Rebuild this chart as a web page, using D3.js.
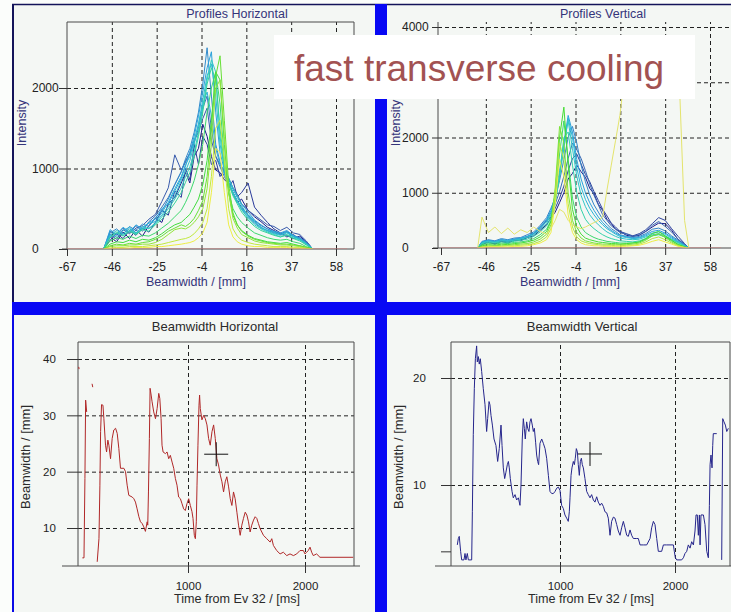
<!DOCTYPE html>
<html>
<head>
<meta charset="utf-8">
<style>
body { margin: 0; background: #f4f7f4; }
svg { display: block; }
svg text { font-family: "Liberation Sans", Arial, sans-serif; }
.grid line { stroke: #222; stroke-dasharray: 4,3; }
.frame line { stroke: #4a4a4a; stroke-width: 1; }
.axis line { stroke: #333; }
.axis text { fill: #222; }
path.trace { fill: none; stroke-width: 1; stroke-linejoin: round; }
</style>
</head>
<body>
<svg></svg>
<script src="https://cdn.jsdelivr.net/npm/d3@7"></script>
<script>
// ---- data ----------------------------------------------------------------
var profileTicks = [-67, -46.2, -25.4, -4.6, 16.2, 37, 57.8];
var profileTickLabels = ["-67", "-46", "-25", "-4", "16", "37", "58"];
var baselineX = [-67, 63];
var intensityTicksH = [0, 1000, 2000];
var intensityTicksV = [0, 1000, 2000, 3000, 4000];
var intensityLabelsV = ["0", "1000", "2000", "", "4000"]; // 3000 sits under the caption
var timeTicks = [1000, 2000];
var widthTicksH = [10, 20, 30, 40];
var widthTicksV = [3.8, 10, 20];
var widthTickLabelsV = ["", "10", "20"];

// horizontal profiles, sampled on hGrid (mm), intensities in counts
var hGrid = [-50,-47,-44,-41,-38,-35,-32,-29,-26,-23,-20,-17,-14,
  -12,-10,-8,-6,-4,-2,0,2,4,6,8,10,12,14,
  17,20,23,26,29,32,35,38,41,44,47];
var hProfiles = [
  [0,150,90,210,130,240,160,290,380,330,560,640,820, 950,820,1150,1250,1550,1400,1150,980,950,860,820,700,580,620, 480,400,340,270,230,180,170,130,160,90,0],
  [0,110,190,130,230,170,260,210,330,480,420,720,640, 1000,860,1300,1050,1400,1300,1050,1100,900,980,760,850,650,700, 820,520,420,330,250,200,150,180,120,70,0],
  [0,180,120,240,190,260,290,370,430,590,760,1170,980, 1080,1200,1350,1450,1620,1750,1350,1150,1050,960,880,760,680,560, 480,420,360,300,280,230,270,200,180,100,0],
  [0,220,170,260,200,290,220,340,410,520,640,800,960, 1100,1180,1320,1500,1750,1900,1500,1150,1020,900,800,700,600,520, 420,350,290,250,210,190,220,160,140,90,0],
  [0,200,250,180,280,230,310,280,390,470,620,800,960, 1120,1250,1450,1700,2050,2500,1900,1300,1080,940,820,700,600,490, 400,320,260,230,200,180,210,160,140,80,0],
  [0,240,180,270,210,300,250,330,370,500,560,720,880, 1030,1200,1400,1650,1950,2250,2450,1700,1200,980,860,740,640,560, 460,360,300,250,220,200,230,170,130,70,0],
  [0,180,150,230,270,200,270,320,340,450,580,750,900, 1050,1150,1350,1550,1800,1950,1650,1250,1050,940,800,680,580,500, 430,340,270,230,210,180,210,160,120,70,0],
  [0,170,230,190,250,200,280,250,330,420,530,660,850, 970,1100,1300,1550,1850,2150,2300,1900,1300,1020,880,760,660,540, 410,330,270,220,190,170,200,150,120,60,0],
  [0,150,200,170,230,190,250,260,310,400,500,620,760, 900,1020,1200,1450,1750,2100,2350,2200,1400,980,820,700,600,490, 380,300,250,210,180,150,180,140,110,60,0],
  [0,140,210,160,220,180,240,220,300,370,460,570,700, 830,950,1150,1400,1700,2050,2250,2100,1500,1040,820,660,560,460, 360,280,230,200,170,150,170,130,100,50,0],
  [0,100,140,120,160,130,170,160,200,260,320,400,480, 580,700,850,1050,1300,1700,2000,2200,1800,1100,700,500,400,330, 260,200,170,140,120,110,120,90,70,30,0],
  [0,60,90,80,110,90,120,110,140,190,250,300,330, 380,430,520,620,800,1100,1600,2200,2100,1300,700,420,300,230, 170,130,110,90,80,70,80,60,40,20,0],
  [0,40,60,50,70,60,80,90,120,160,220,260,300, 280,320,380,480,600,900,1500,2150,2400,1600,800,450,300,220, 160,120,100,80,70,60,60,50,40,20,0],
  [0,30,40,40,50,50,60,60,80,120,180,240,260, 250,280,330,400,500,750,1300,2000,2100,1400,700,380,260,180, 140,100,80,70,60,50,50,40,30,10,0],
  [0,10,20,20,30,30,30,40,50,60,80,100,120, 130,150,190,250,330,500,900,1500,1600,1100,500,250,160,110, 80,60,50,40,30,30,30,20,20,10,0],
  [0,10,10,10,10,20,20,20,30,30,40,50,60, 70,80,100,140,200,330,700,1250,1200,700,300,150,90,60, 40,30,30,20,20,20,20,10,10,0,0]
];

// vertical profiles, sampled on vGrid (mm)
var vGrid = [-50,-48,-45,-42,-39,-36,-33,-30,-27,-24,
  -21,-18,-16,-14,-12,-10,-8,-6,-4,-2,
  0,2,4,6,8,10,12,14,16,19,
  22,25,28,31,34,37,40,43,46,48];
var vProfiles = [
  [0,60,110,70,120,90,140,150,190,220, 320,420,540,650,820,1000,1250,1350,1500,1380, 1280,1080,980,790,680,520,440,340,300,230, 210,230,300,380,450,440,320,150,60,0],
  [0,90,100,80,130,110,150,130,190,260, 350,490,560,720,900,1120,1400,1620,1700,1520, 1330,1200,1020,860,700,580,450,380,300,260, 220,260,330,440,550,500,350,210,80,0],
  [0,100,140,110,150,120,160,170,210,260, 390,500,640,800,1020,1300,1620,1900,1780,1620, 1400,1160,950,780,600,500,400,340,280,250, 210,240,300,410,480,390,290,160,70,0],
  [0,120,150,130,170,150,180,190,240,290, 410,550,720,900,1220,1600,2000,2200,1900,1500, 1200,960,780,650,520,430,350,300,240,210, 190,210,260,340,360,310,220,140,60,0],
  [0,110,140,120,150,140,160,180,210,270, 380,520,680,950,1400,1900,2400,2100,1600,1250, 1000,820,680,560,460,380,320,270,230,200, 180,190,240,300,320,270,200,120,50,0],
  [0,100,130,110,140,130,150,170,200,260, 360,480,640,900,1300,1800,2350,2000,1450,1100, 880,720,600,500,420,350,300,250,210,190, 170,180,220,270,290,250,180,110,40,0],
  [0,90,120,100,130,120,140,160,190,240, 330,450,600,850,1300,1900,2300,1800,1300,950, 750,600,500,420,350,290,250,210,180,160, 150,160,200,240,260,220,160,100,40,0],
  [0,80,100,90,110,100,120,140,160,210, 290,400,550,800,1300,2000,2100,1500,1000,700, 520,420,350,290,240,200,170,150,130,120, 110,130,170,220,240,200,150,90,30,0],
  [0,60,80,70,90,80,100,110,130,170, 240,340,500,900,1700,2300,1600,900,550,380, 280,230,190,160,140,120,110,100,90,90, 90,110,160,220,250,200,130,70,20,0],
  [0,40,60,50,70,60,80,90,110,140, 200,300,480,1000,2000,2550,1500,700,380,250, 180,150,130,110,100,90,80,80,70,80, 90,110,170,260,300,220,140,60,20,0],
  [0,30,40,40,50,50,60,70,80,110, 160,250,420,1100,2200,1900,1000,500,280,180, 130,110,90,80,70,70,60,60,60,60, 70,90,140,220,260,190,110,50,10,0],
  [0,20,30,30,30,40,40,50,60,80, 120,200,350,1000,1900,1600,800,380,200,130, 100,80,70,60,50,50,50,40,40,50, 50,70,110,170,200,150,90,40,10,0],
  [0,10,20,20,20,20,30,30,40,60, 90,150,280,800,1600,1300,600,280,150,90, 60,50,40,40,30,30,30,30,30,30, 40,50,80,120,150,110,70,30,10,0]
];
var vOutlier = [0,560,280,380,260,360,250,330,280,380, 300,250,350,500,700,650,500,420,380,350,
  380,420,460,500,560,1050,1500,1950,2400,3400, 3650,3700,3650,3700,3650,3700,3650,3600,500,0];

// beamwidth vs time: [time ms, width mm], null = no reading
var bwHorizontal = [
  [66,38.6],[69,38.2],[75,null],
  [97,4.7],[111,4.7],[119,18.8],[125,32.7],[134,30.6],[150,null],
  [180,35.6],[186,35.0],[200,null],
  [224,4.0],[239,8.1],[247,17.6],[253,27.1],[261,31.9],[273,31.8],[281,29.4],[295,24.7],[304,23.5],
  [315,25.6],[324,24.7],[338,22.3],[352,25.9],[366,27.4],[381,27.7],[395,26.8],[409,24.1],[423,20.6],
  [452,20.6],[466,20.0],[480,17.6],[494,15.8],[523,15.5],[537,15.2],[551,14.6],[565,13.4],[580,12.0],
  [594,11.1],[608,10.8],[622,10.2],[636,9.4],[651,11.1],[656,10.5],[662,16.4],[670,25.9],[676,34.8],
  [685,33.6],[693,32.4],[707,30.6],[722,29.4],[736,31.2],[750,33.9],[759,33.0],[770,29.4],[778,24.7],
  [787,23.5],[807,23.2],[821,23.5],[835,22.3],[849,22.9],[864,21.7],[878,20.6],[892,18.8],[906,17.6],
  [920,15.5],[935,15.2],[949,14.3],[963,13.4],[977,13.1],[991,14.3],[1006,15.2],[1020,14.0],[1034,12.9],
  [1043,11.7],[1054,8.7],[1063,8.1],[1071,11.1],[1077,17.6],[1085,24.7],[1094,31.8],[1099,33.6],[1105,31.2],
  [1119,29.2],[1134,30.0],[1148,29.4],[1162,28.3],[1176,25.9],[1190,24.7],[1205,27.1],[1219,28.3],[1233,25.9],
  [1247,22.3],[1261,21.2],[1276,19.4],[1290,18.2],[1304,16.4],[1318,18.2],[1332,19.1],[1347,17.3],[1361,15.2],
  [1375,14.0],[1389,16.4],[1403,15.2],[1418,12.8],[1432,10.5],[1446,8.7],[1460,10.5],[1474,11.7],[1489,12.8],
  [1503,12.3],[1517,11.1],[1531,9.3],[1545,10.5],[1560,11.4],[1574,12.0],[1588,11.7],[1602,10.8],[1616,9.9],
  [1645,8.7],[1673,8.1],[1702,7.5],[1716,8.1],[1730,6.9],[1758,6.0],[1787,5.4],[1815,5.7],[1844,5.1],
  [1872,5.4],[1901,5.1],[1929,5.4],[1957,6.0],[1986,6.0],[2000,5.4],[2014,5.7],[2028,6.0],[2043,6.6],
  [2057,5.7],[2071,5.1],[2099,5.4],[2128,4.8],[2412,4.8]
];
var bwVertical = [
  [107,4.4],[116,5.0],[124,5.2],[136,3.8],[145,3.0],[165,3.0],[174,3.6],[182,3.0],[194,3.6],[203,3.0],
  [232,3.0],[238,7.5],[246,14.7],[255,19.0],[264,21.8],[275,23.0],[281,21.5],[290,22.0],[298,21.3],[307,21.8],
  [319,20.6],[333,19.0],[348,17.5],[362,15.0],[371,16.2],[383,17.8],[391,17.5],[400,16.5],[412,15.6],[426,14.3],
  [443,13.7],[458,12.2],[472,13.4],[487,15.6],[496,13.7],[507,11.6],[519,10.6],[530,11.2],[542,11.9],[551,12.2],
  [559,11.6],[568,10.6],[583,9.4],[594,8.8],[609,9.1],[623,8.6],[638,8.8],[652,8.1],[661,10.0],[672,14.3],
  [681,16.2],[690,15.3],[698,14.3],[710,15.9],[719,15.3],[730,15.0],[739,15.9],[748,16.2],[759,15.6],[768,15.0],
  [777,15.3],[788,14.0],[797,12.8],[806,12.2],[814,11.9],[826,13.9],[841,14.3],[855,13.9],[870,13.4],[884,12.5],
  [899,10.9],[913,9.4],[928,9.2],[942,9.2],[957,9.4],[971,9.7],[986,9.8],[1000,9.5],[1014,8.1],[1029,7.8],
  [1043,7.2],[1058,6.9],[1072,6.6],[1081,7.5],[1087,8.8],[1096,10.9],[1104,11.6],[1116,12.2],[1125,11.9],[1133,12.5],
  [1142,13.4],[1151,13.1],[1159,11.9],[1168,10.9],[1177,12.2],[1186,12.5],[1194,11.9],[1203,11.6],[1217,10.6],[1232,9.4],
  [1246,9.1],[1261,8.8],[1275,9.1],[1290,8.6],[1304,8.4],[1319,8.9],[1333,8.4],[1348,8.1],[1362,8.3],[1377,8.0],
  [1391,7.5],[1406,7.4],[1420,6.9],[1435,5.3],[1449,6.6],[1464,7.0],[1478,6.9],[1493,6.3],[1507,5.7],[1522,5.3],
  [1536,6.0],[1551,6.6],[1565,6.0],[1580,5.3],[1594,5.2],[1609,5.8],[1623,5.3],[1638,5.0],[1667,5.0],[1681,5.0],
  [1696,4.4],[1725,4.4],[1754,4.4],[1783,5.0],[1797,6.0],[1812,6.6],[1826,6.3],[1841,5.0],[1855,3.8],[1884,3.8],
  [1899,4.4],[1928,4.4],[1986,4.4],[1994,3.8],[2003,3.2],[2015,3.0],[2058,3.0],[2073,3.2],[2087,3.6],[2102,3.8],
  [2116,4.4],[2131,4.1],[2145,4.7],[2160,4.4],[2174,5.7],[2183,7.2],[2194,7.2],[2203,5.3],[2212,7.2],[2218,4.4],
  [2226,7.2],[2247,7.2],[2261,6.3],[2276,3.8],[2290,3.2],[2299,8.1],[2305,11.9],[2313,12.8],[2322,11.6],[2328,13.7],
  [2333,14.8],[2348,14.8],[2363,14.8],[2370,null],[2406,3.0],[2415,16.2],[2426,15.9],[2438,15.6],[2450,15.0],[2464,15.3]
];
var cursorH = [1241, 23.1];
var cursorV = [1261, 12.9];

// ---- drawing -------------------------------------------------------------
var width = 731, height = 612;

var svg = d3.select("svg")
    .attr("width", width)
    .attr("height", height);

svg.append("rect").attr("width", width).attr("height", height).attr("fill", "#f4f7f4");
svg.append("rect").attr("width", 12).attr("height", height).attr("fill", "#fbfdfb");
svg.append("rect").attr("width", width).attr("height", 4).attr("fill", "#fbfdfb");

var profileColor = d3.scaleLinear()
    .domain([0, 0.15, 0.35, 0.55, 0.75, 1])
    .range(["#1a1a8a", "#3b62b0", "#2aa8e0", "#30d0c0", "#44dd33", "#eeee44"]);

function drawAxes(p) {
  var g = svg.append("g");

  g.append("g")
      .attr("class", "grid")
      .attr("transform", "translate(0," + p.bottom + ")")
      .call(d3.axisBottom(p.x).tickValues(p.xGrid).tickSize(p.top - p.bottom).tickFormat(""))
      .call(function(s) { s.select(".domain").remove(); });
  g.append("g")
      .attr("class", "grid")
      .attr("transform", "translate(" + p.left + ",0)")
      .call(d3.axisRight(p.y).tickValues(p.yGrid).tickSize(p.right - p.left).tickFormat(""))
      .call(function(s) { s.select(".domain").remove(); });

  var frame = g.append("g").attr("class", "frame");
  frame.append("line").attr("x1", p.left).attr("x2", p.left).attr("y1", p.top).attr("y2", p.bottom);
  frame.append("line").attr("x1", p.axisFrom).attr("x2", p.axisTo).attr("y1", p.bottom).attr("y2", p.bottom);
  if (p.boxed) {
    frame.append("line").attr("x1", p.left).attr("x2", p.right).attr("y1", p.top).attr("y2", p.top);
    frame.append("line").attr("x1", p.right).attr("x2", p.right).attr("y1", p.top).attr("y2", p.bottom);
  }

  var ya = g.append("g")
      .attr("class", "axis")
      .attr("transform", "translate(" + p.left + ",0)")
      .call(d3.axisLeft(p.y).tickValues(p.yTicks).tickSize(p.yTickLen)
        .tickFormat(function(d, i) { return p.yLabels[i]; }));
  ya.select(".domain").remove();
  ya.attr("font-size", p.tickFont);
  ya.selectAll("text").attr("x", p.yLabelX - p.left).attr("text-anchor", "start");

  var xa = g.append("g")
      .attr("class", "axis")
      .attr("transform", "translate(0," + p.bottom + ")")
      .call(d3.axisBottom(p.x).tickValues(p.xTicks).tickSize(p.xTickLen)
        .tickFormat(function(d, i) { return p.xLabels[i]; }));
  xa.select(".domain").remove();
  xa.attr("font-size", p.tickFont);
  xa.selectAll("text").attr("y", p.xLabelY - p.bottom).attr("dy", null);

  svg.append("clipPath").attr("id", "clip-" + p.id)
    .append("rect")
      .attr("x", p.left).attr("y", p.top)
      .attr("width", p.right - p.left).attr("height", p.bottom - p.top);

  return svg.append("g").attr("clip-path", "url(#clip-" + p.id + ")");
}

function label(txt, x, y, size, color, rotate) {
  svg.append("text")
      .attr("transform", "translate(" + x + "," + y + ")" + (rotate ? " rotate(-90)" : ""))
      .attr("text-anchor", "middle")
      .attr("font-size", size)
      .attr("fill", color)
      .text(txt);
}

function profilePanel(p, grid, profiles) {
  var layer = drawAxes(p);
  var line = d3.line().x(function(d) { return p.x(d[0]); }).y(function(d) { return p.y(d[1]); });
  layer.selectAll("path.trace")
    .data(profiles)
    .join("path")
      .attr("class", "trace")
      .attr("stroke", function(d, i) { return profileColor(i / (profiles.length - 1)); })
      .attr("d", function(d) { return line(d.map(function(v, j) { return [grid[j], v]; })); });
  return { layer: layer, line: line };
}

// top left: profiles horizontal
var tl = {
  id: "tl", left: 67, right: 354, top: 22, bottom: 249,
  x: d3.scaleLinear().domain([-67, 57.8]).range([67, 336]),
  y: d3.scaleLinear().domain([0, 2000]).range([249, 88]),
  xTicks: profileTicks, xLabels: profileTickLabels, xGrid: profileTicks.slice(1),
  yTicks: intensityTicksH, yLabels: intensityTicksH.map(String), yGrid: intensityTicksH.slice(1),
  yTickLen: 8, xTickLen: 7, yLabelX: 32, xLabelY: 271, axisFrom: 62, axisTo: 354,
  boxed: true, tickFont: 12
};
var tlDraw = profilePanel(tl, hGrid, hProfiles);
tlDraw.layer.append("path")
    .attr("class", "trace")
    .attr("stroke", "#c88080").attr("stroke-width", 3)
    .attr("d", tlDraw.line(baselineX.map(function(v) { return [v, 0]; })));

// top right: profiles vertical
var tr = {
  id: "tr", left: 438, right: 731, top: 22, bottom: 248,
  x: d3.scaleLinear().domain([-67, 57.8]).range([441, 710]),
  y: d3.scaleLinear().domain([0, 4000]).range([248, 27]),
  xTicks: profileTicks, xLabels: profileTickLabels, xGrid: profileTicks.slice(1),
  yTicks: intensityTicksV, yLabels: intensityLabelsV, yGrid: intensityTicksV.slice(1),
  yTickLen: 6, xTickLen: 7, yLabelX: 402, xLabelY: 271, axisFrom: 433, axisTo: 731,
  boxed: false, tickFont: 12
};
var trDraw = profilePanel(tr, vGrid, vProfiles);
trDraw.layer.append("path")
    .attr("class", "trace")
    .attr("stroke", "#e4e46c")
    .attr("d", trDraw.line(vOutlier.map(function(v, j) { return [vGrid[j], v]; })));
trDraw.layer.append("path")
    .attr("class", "trace")
    .attr("stroke", "#c88080").attr("stroke-width", 3)
    .attr("d", trDraw.line(baselineX.map(function(v) { return [v, 0]; })));

// bottom panels: beamwidth vs time
function timePanel(p, series, cursor, color) {
  var layer = drawAxes(p);
  var line = d3.line()
      .defined(function(d) { return d[1] != null; })
      .x(function(d) { return p.x(d[0]); })
      .y(function(d) { return p.y(d[1]); });
  layer.append("path")
      .attr("class", "trace")
      .attr("stroke", color)
      .attr("d", line(series));
  var cx = p.x(cursor[0]), cy = p.y(cursor[1]);
  svg.append("path")
      .attr("fill", "none").attr("stroke", "#111")
      .attr("d", "M" + (cx - 12) + "," + cy + "H" + (cx + 12) + "M" + cx + "," + (cy - 12) + "V" + (cy + 12));
}

var bl = {
  id: "bl", left: 78, right: 354, top: 342, bottom: 566,
  x: d3.scaleLinear().domain([1000, 2000]).range([188, 305]),
  y: d3.scaleLinear().domain([10, 40]).range([528, 359]),
  xTicks: timeTicks, xLabels: timeTicks.map(String), xGrid: timeTicks,
  yTicks: widthTicksH, yLabels: widthTicksH.map(String), yGrid: widthTicksH,
  yTickLen: 11, xTickLen: 7, yLabelX: 43, xLabelY: 590, axisFrom: 62, axisTo: 360,
  boxed: true, tickFont: 11.5
};
timePanel(bl, bwHorizontal, cursorH, "#b02828");

var br = {
  id: "br", left: 451, right: 730, top: 342, bottom: 566,
  x: d3.scaleLinear().domain([1000, 2000]).range([560, 675]),
  y: d3.scaleLinear().domain([10, 20]).range([485, 378]),
  xTicks: timeTicks, xLabels: timeTicks.map(String), xGrid: timeTicks,
  yTicks: widthTicksV, yLabels: widthTickLabelsV, yGrid: widthTicksV.slice(1),
  yTickLen: 10, xTickLen: 7, yLabelX: 413, xLabelY: 590, axisFrom: 435, axisTo: 731,
  boxed: true, tickFont: 11.5
};
timePanel(br, bwVertical, cursorV, "#26268c");

// titles and axis names
var topInk = "#34347a", bottomInk = "#2a2a2a";
label("Profiles Horizontal", 237, 18, 12.5, topInk);
label("Intensity", 26, 123, 12.5, topInk, true);
label("Beamwidth / [mm]", 196, 286, 12.5, topInk);
label("Profiles Vertical", 603, 18, 12.5, topInk);
label("Intensity", 400, 123, 12.5, topInk, true);
label("Beamwidth / [mm]", 570, 286, 12.5, topInk);
label("Beamwidth Horizontal", 215, 331, 13, bottomInk);
label("Beamwidth / [mm]", 30, 457, 13, bottomInk, true);
label("Time from Ev 32 / [ms]", 237, 603, 12.6, bottomInk);
label("Beamwidth Vertical", 582, 331, 13, bottomInk);
label("Beamwidth / [mm]", 403, 457, 13, bottomInk, true);
label("Time from Ev 32 / [ms]", 591, 603, 12.6, bottomInk);

// window borders and the blue separators
svg.append("line").attr("x1", 12).attr("x2", width).attr("y1", 4.5).attr("y2", 4.5)
    .attr("stroke", "#14145a").attr("stroke-width", 1.5);
svg.append("line").attr("x1", 13).attr("x2", 13).attr("y1", 4).attr("y2", 302)
    .attr("stroke", "#14145a").attr("stroke-width", 2);
svg.append("line").attr("x1", 13).attr("x2", 13).attr("y1", 302).attr("y2", height)
    .attr("stroke", "#0a0ae6").attr("stroke-width", 2);
svg.append("rect").attr("x", 375).attr("y", 4).attr("width", 12).attr("height", height - 4).attr("fill", "#0808f4");
svg.append("rect").attr("x", 12).attr("y", 302).attr("width", width - 12).attr("height", 13).attr("fill", "#0808f4");

// overlay caption
svg.append("rect").attr("x", 274).attr("y", 35).attr("width", 421).attr("height", 64).attr("fill", "#ffffff");
svg.append("text")
    .attr("x", 294).attr("y", 81)
    .attr("font-size", 37)
    .attr("fill", "#a25252")
    .text("fast transverse cooling");
</script>
</body>
</html>
